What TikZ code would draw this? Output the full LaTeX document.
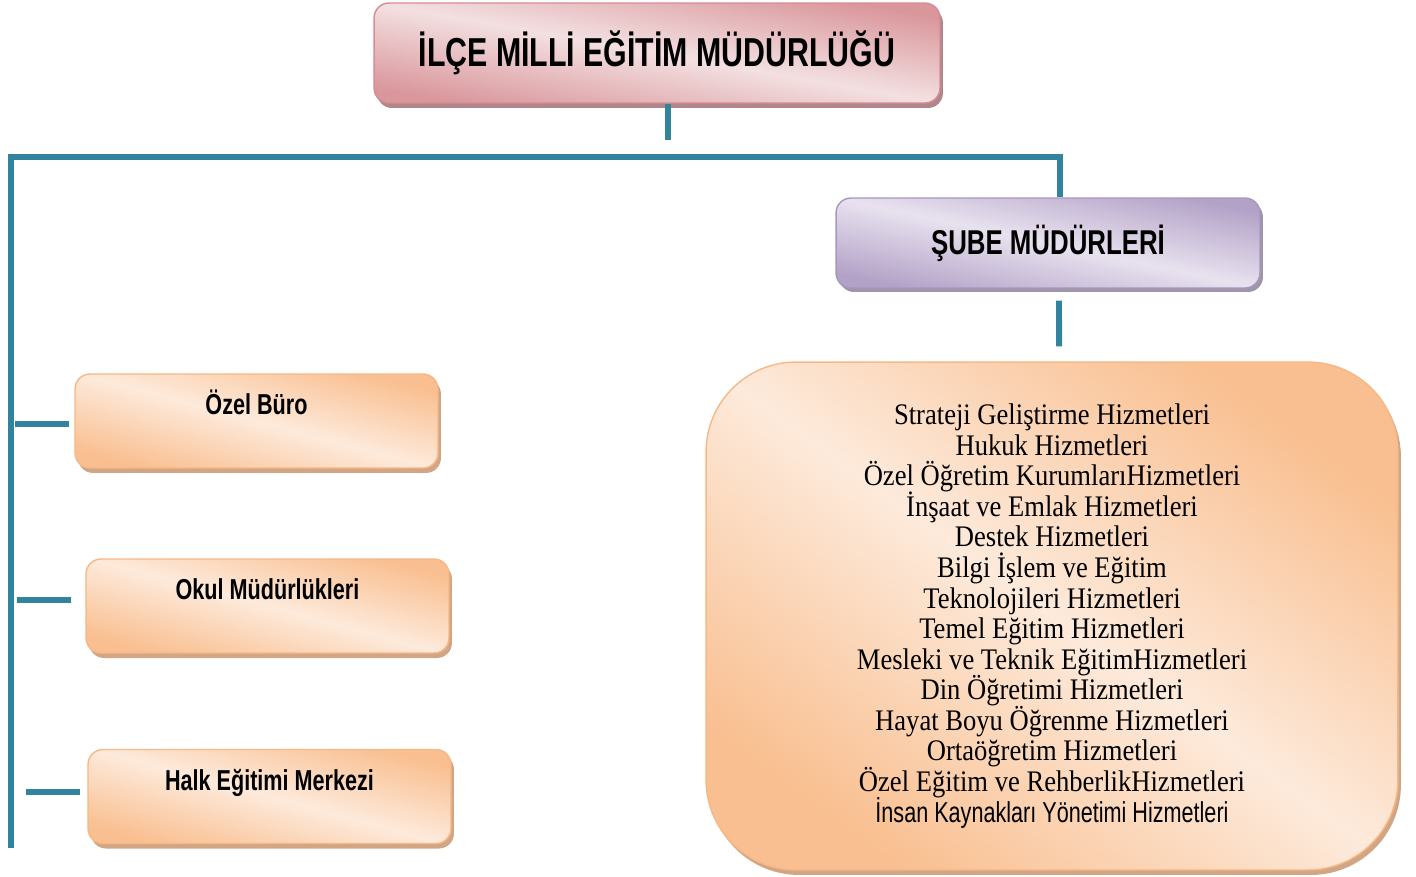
\documentclass[tikz,border=0pt]{standalone}
\usepackage{fontspec}
\setmainfont{Liberation Serif}
\newfontfamily\narrowsans{Liberation Sans}[FakeStretch=0.75]
\newfontfamily\narrowserif{Liberation Serif}[FakeStretch=0.89]
\newcommand{\tightlines}{\setlength{\lineskiplimit}{-20pt}}
\usetikzlibrary{shadows}
\definecolor{line-teal}{HTML}{31849B}
\definecolor{rose-dark}{HTML}{D9969B}
\definecolor{rose-light}{HTML}{F3E0E1}
\definecolor{rose-line}{HTML}{D58C92}
\definecolor{rose-shadow}{HTML}{B0868A}
\definecolor{lilac-dark}{HTML}{B3A2C7}
\definecolor{lilac-light}{HTML}{E8E2EF}
\definecolor{lilac-line}{HTML}{A897BF}
\definecolor{lilac-shadow}{HTML}{9E96A8}
\definecolor{peach-dark}{HTML}{F9BF90}
\definecolor{peach-light}{HTML}{FDEADB}
\definecolor{peach-line}{HTML}{F5B887}
\definecolor{peach-shadow}{HTML}{D2A684}

\begin{document}
\begin{tikzpicture}[x=0.02cm, y=-0.02cm,
      link/.style={draw=line-teal, line width=3.4pt},
      box base/.style={rounded corners=0.3cm, line width=0.8pt,
        text=black, inner sep=0pt},
      head box/.style={box base, draw=rose-line, top color=rose-dark,
        bottom color=rose-dark, middle color=rose-light, shading angle=-10,
        drop shadow={shadow xshift=0.06cm, shadow yshift=-0.1cm, fill=rose-shadow, opacity=1},
        font=\narrowsans\bfseries\fontsize{23}{28}\selectfont},
      branch box/.style={box base, draw=lilac-line, top color=lilac-dark,
        bottom color=lilac-dark, middle color=lilac-light, shading angle=-12,
        drop shadow={shadow xshift=0.06cm, shadow yshift=-0.08cm, fill=lilac-shadow, opacity=1},
        font=\narrowsans\bfseries\fontsize{19.6}{24}\selectfont},
      unit box/.style={box base, draw=peach-line, top color=peach-dark,
        bottom color=peach-dark, middle color=peach-light, shading angle=-15,
        minimum width=7.26cm, minimum height=1.88cm,
        text height=0.45cm, text depth=0.7cm,
        drop shadow={shadow xshift=0.06cm, shadow yshift=-0.1cm, fill=peach-shadow, opacity=1},
        font=\narrowsans\bfseries\fontsize{16.4}{20}\selectfont},
      service box/.style={box base, rounded corners=1.8cm, draw=peach-line,
        top color=peach-dark, bottom color=peach-dark, middle color=peach-light,
        shading angle=-36,
        minimum width=13.84cm, minimum height=10.16cm, align=center,
        drop shadow={shadow xshift=0.06cm, shadow yshift=-0.1cm, fill=peach-shadow, opacity=1},
        font=\narrowserif\fontsize{17}{17.4}\selectfont\tightlines}]
    \useasboundingbox (0,0) rectangle (1416,876);
    % ---- top: directorate
    \node[head box, minimum width=11.32cm, minimum height=2.0cm] (mudurluk) at (657,53)
      {İLÇE MİLLİ EĞİTİM MÜDÜRLÜĞÜ};
    \coordinate (hub) at (668,140);
    \coordinate (barL) at (11,157);
    \coordinate (trunkEnd) at (11,848);
    \draw[link] (mudurluk.south -| hub) -- (hub);
    % ---- right branch
    \node[branch box, minimum width=8.48cm, minimum height=1.8cm] (sube) at (1048,243)
      {ŞUBE MÜDÜRLERİ};
    \draw[link] ([xshift=0.24cm]sube.north) |- (barL) -- (trunkEnd);
    \node[service box] (hizmet) at (1052,616)
      {Strateji Geliştirme Hizmetleri\\
       Hukuk Hizmetleri\\
       Özel Öğretim KurumlarıHizmetleri\\
       İnşaat ve Emlak Hizmetleri\\
       Destek Hizmetleri\\
       Bilgi İşlem ve Eğitim\\
       Teknolojileri Hizmetleri\\
       Temel Eğitim Hizmetleri\\
       Mesleki ve Teknik EğitimHizmetleri\\
       Din Öğretimi Hizmetleri\\
       Hayat Boyu Öğrenme Hizmetleri\\
       Ortaöğretim Hizmetleri\\
       Özel Eğitim ve RehberlikHizmetleri\\
       {\narrowsans\fontsize{16.4}{17.4}\selectfont İnsan Kaynakları Yönetimi Hizmetleri}};
    \draw[link] ([xshift=0.22cm, yshift=-0.24cm]sube.south) -- ([xshift=0.14cm, yshift=0.3cm]hizmet.north);
    % ---- left units
    \node[unit box] (ozel) at (256.5,421) {Özel Büro};
    \node[unit box] (okul) at (267.5,606) {Okul Müdürlükleri};
    \node[unit box] (halk) at (269.5,796.5) {Halk Eğitimi Merkezi};
    \draw[link] ([xshift=-0.1cm, yshift=-0.06cm]ozel.west) -- ++(-1.08cm,0);
    \draw[link] ([xshift=-0.28cm, yshift=0.12cm]okul.west) -- ++(-1.08cm,0);
    \draw[link] ([xshift=-0.14cm, yshift=0.09cm]halk.west) -- ++(-1.08cm,0);
  \end{tikzpicture}
\end{document}
